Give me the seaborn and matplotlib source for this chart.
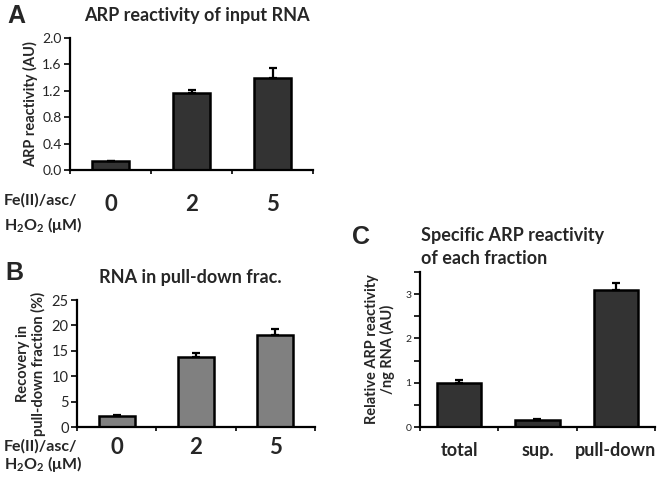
import matplotlib
matplotlib.use('Agg')
import matplotlib.pyplot as plt
import seaborn as sns
import pandas as pd

# ---- data ----
dose_labels = ['0', '2', '5']
arp_input = [0.13, 1.17, 1.40]
arp_input_err = [0.01, 0.04, 0.15]

pulldown_rec = [2.1, 13.8, 18.1]
pulldown_rec_err = [0.3, 0.7, 1.1]

fractions = ['total', 'sup.', 'pull-down']
spec_arp = [1.0, 0.15, 3.1]
spec_arp_err = [0.07, 0.02, 0.15]

sns.set_theme(style='white')
plt.rcParams['font.family'] = ['Lato', 'DejaVu Sans']
plt.rcParams['axes.unicode_minus'] = False
plt.rcParams['mathtext.fontset'] = 'custom'
plt.rcParams['mathtext.rm'] = 'Lato'
plt.rcParams['mathtext.bf'] = 'Lato:bold'

fig = plt.figure(figsize=(6.57, 4.86), dpi=100)
W, H = 657.0, 486.0


def axes_px(left, right, top, bottom):
    return fig.add_axes([left / W, 1 - bottom / H, (right - left) / W, (bottom - top) / H])


def bar_panel(ax, cats, vals, errs, color, width):
    df = pd.DataFrame({'cat': cats, 'val': vals})
    sns.barplot(data=df, x='cat', y='val', color=color, width=width,
                edgecolor='black', linewidth=1.8, saturation=1, ax=ax)
    ax.errorbar(range(len(cats)), vals, yerr=[[0] * len(errs), errs], fmt='none',
                ecolor='black', elinewidth=1.6, capsize=3, capthick=1.6)
    ax.set_xlim(-0.5, len(cats) - 0.5)
    ax.set_xlabel('')
    sns.despine(ax=ax)
    for s in ['left', 'bottom']:
        ax.spines[s].set_color('black')
        ax.spines[s].set_linewidth(1.6)
    ax.tick_params(axis='x', which='major', length=0)
    ax.set_xticks([i - 0.5 for i in range(len(cats) + 1)], minor=True)
    ax.tick_params(axis='x', which='minor', bottom=True, length=3, width=1.2, color='black')
    ax.tick_params(axis='y', left=True, length=4, width=1.2, color='black', pad=2)
    for lab in ax.get_xticklabels():
        lab.set_fontweight('bold')


# ---- panel A ----
axA = axes_px(70, 313, 38, 170)
bar_panel(axA, dose_labels, arp_input, arp_input_err, '#333333', 0.46)
axA.set_ylim(0, 2.0)
axA.set_yticks([0, 0.4, 0.8, 1.2, 1.6, 2.0])
axA.set_yticklabels(['0.0', '0.4', '0.8', '1.2', '1.6', '2.0'], fontsize=10)
axA.tick_params(axis='x', labelsize=16, pad=17)
axA.set_ylabel('ARP reactivity (AU)', fontsize=10.5, fontweight='bold', labelpad=3)
fig.text(84 / W, 1 - 15 / H, 'ARP reactivity of input RNA', fontsize=13,
         fontweight='bold', ha='left', va='center')
fig.text(7 / W, 1 - 16 / H, 'A', fontsize=18, fontweight='bold',
         family='Liberation Sans', ha='left', va='center')
fig.text(4 / W, 1 - 200 / H, 'Fe(II)/asc/', fontsize=11.5, fontweight='bold', va='center')
fig.text(4 / W, 1 - 225 / H, 'H$_\\mathbf{2}$O$_\\mathbf{2}$ (μM)', fontsize=11.5,
         fontweight='bold', va='center')

# ---- panel B ----
axB = axes_px(77, 315, 300, 427)
bar_panel(axB, dose_labels, pulldown_rec, pulldown_rec_err, '#808080', 0.45)
axB.set_ylim(0, 25)
axB.set_yticks([0, 5, 10, 15, 20, 25])
axB.tick_params(axis='y', labelsize=10.5)
axB.tick_params(axis='x', labelsize=16, pad=7)
axB.set_ylabel('Recovery in\npull-down fraction (%)', fontsize=10.5, fontweight='bold',
               labelpad=4, linespacing=1.05)
fig.text(99 / W, 1 - 278 / H, 'RNA in pull-down frac.', fontsize=13,
         fontweight='bold', ha='left', va='center')
fig.text(5 / W, 1 - 273 / H, 'B', fontsize=18, fontweight='bold',
         family='Liberation Sans', ha='left', va='center')
fig.text(4 / W, 1 - 446 / H, 'Fe(II)/asc/', fontsize=11.5, fontweight='bold', va='center')
fig.text(4 / W, 1 - 464 / H, 'H$_\\mathbf{2}$O$_\\mathbf{2}$ (μM)', fontsize=11.5,
         fontweight='bold', va='center')

# ---- panel C ----
axC = axes_px(420, 655, 272, 427)
bar_panel(axC, fractions, spec_arp, spec_arp_err, '#333333', 0.57)
axC.set_ylim(0, 3.5)
axC.set_yticks([0, 0.5, 1, 1.5, 2, 2.5, 3, 3.5])
axC.set_yticklabels(['0', '', '1', '', '2', '', '3', ''], fontsize=7.5)
axC.tick_params(axis='x', labelsize=13, pad=11)
axC.set_ylabel('Relative ARP reactivity\n/ng RNA (AU)', fontsize=10.5, fontweight='bold',
               labelpad=8, linespacing=1.05)
fig.text(421 / W, 1 - 235 / H, 'Specific ARP reactivity', fontsize=13,
         fontweight='bold', ha='left', va='center')
fig.text(421 / W, 1 - 258 / H, 'of each fraction', fontsize=13,
         fontweight='bold', ha='left', va='center')
fig.text(352 / W, 1 - 237 / H, 'C', fontsize=18, fontweight='bold',
         family='Liberation Sans', ha='left', va='center')

fig.savefig('out.png', dpi=100)
